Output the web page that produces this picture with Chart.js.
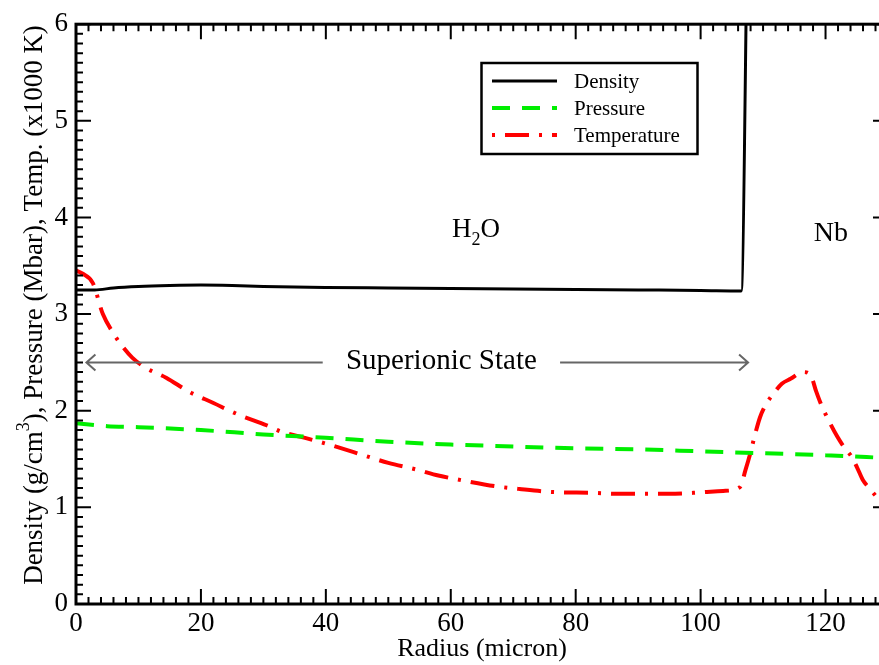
<!DOCTYPE html>
<html>
<head>
<meta charset="utf-8">
<script src="https://cdn.jsdelivr.net/npm/chart.js@4.4.0/dist/chart.umd.min.js"></script>
<style>
  html, body { margin: 0; padding: 0; background: #fff; overflow: hidden; }
  #wrap { width: 888px; height: 665px; }
</style>
</head>
<body>
<div id="wrap"><canvas id="profileChart" width="888" height="665"></canvas></div>
<script>
const serif = '"Liberation Serif", "Times New Roman", serif';

// Tick labels
const radiusTicks = [0, 20, 40, 60, 80, 100, 120];
const valueTicks = [0, 1, 2, 3, 4, 5, 6];

// Density (g/cm3) vs radius (micron) - jumps to Nb past the interface
const densityRadius = [0, 3, 6, 10, 15, 20, 25, 30, 40, 50, 60, 70, 80, 90, 100, 106.5, 108, 130];
const densityValues = [3.25, 3.25, 3.27, 3.285, 3.295, 3.30, 3.295, 3.285, 3.275, 3.27, 3.265, 3.26, 3.255, 3.25, 3.245, 3.24, 8.6, 8.6];

// Pressure (Mbar)
const pressureRadius = [0, 5, 10, 20, 30, 40, 50, 60, 70, 80, 90, 100, 110, 120, 130];
const pressureValues = [1.87, 1.84, 1.83, 1.80, 1.755, 1.72, 1.68, 1.65, 1.63, 1.61, 1.60, 1.58, 1.56, 1.54, 1.51];

// Temperature (x1000 K)
const tempRadius = [0, 1, 2.7, 4.3, 6, 7.5, 9, 11, 14.5, 18, 22, 26, 30.5, 33, 36, 40, 46.5, 50, 54.6, 58,
  62.6, 67, 71, 76, 82.8, 87, 91.4, 95, 98.8, 101, 103.6, 106.3, 107.2, 108, 108.5, 109.5, 110.5, 111.7,
  113, 114.4, 116.4, 117.6, 118.5, 119.2, 120.5, 121.9, 123, 124, 125, 126, 127, 128.3, 130];
const tempValues = [3.45, 3.42, 3.32, 3.0, 2.8, 2.66, 2.55, 2.45, 2.34, 2.2, 2.08, 1.96, 1.85, 1.78, 1.73, 1.66, 1.53, 1.46, 1.39, 1.33,
  1.27, 1.22, 1.19, 1.16, 1.15, 1.14, 1.14, 1.14, 1.15, 1.16, 1.17, 1.21, 1.39, 1.57, 1.70, 1.93, 2.07, 2.18,
  2.28, 2.33, 2.40, 2.37, 2.2, 2.08, 1.9, 1.73, 1.62, 1.54, 1.42, 1.28, 1.20, 1.10, 1.0];

const toPoints = (xs, ys) => xs.map((x, i) => ({ x: x, y: ys[i] }));

// frame, inward ticks on all four sides, legend box and labels
const decorations = {
  id: 'decorations',
  afterDraw(chart) {
    const ctx = chart.ctx;
    const area = chart.chartArea;
    const xs = chart.scales.x;
    const ys = chart.scales.y;
    ctx.save();
    ctx.strokeStyle = '#000';

    // ticks
    ctx.lineWidth = 2;
    ctx.beginPath();
    for (let i = 0; i <= 65; i++) {
      const px = xs.getPixelForValue(i * 2);
      const len = (i % 10 === 0) ? 15 : 7;
      ctx.moveTo(px, area.bottom); ctx.lineTo(px, area.bottom - len);
      ctx.moveTo(px, area.top); ctx.lineTo(px, area.top + len);
    }
    for (let i = 0; i <= 60; i++) {
      const py = ys.getPixelForValue(i / 10);
      const len = (i % 10 === 0) ? 15 : 7;
      ctx.moveTo(area.left, py); ctx.lineTo(area.left + len, py);
      ctx.moveTo(area.right, py); ctx.lineTo(area.right - len, py);
    }
    ctx.stroke();

    // frame
    ctx.lineWidth = 3;
    ctx.strokeRect(area.left, area.top, area.right - area.left, area.bottom - area.top);

    // x title
    ctx.fillStyle = '#000';
    ctx.font = '26px ' + serif;
    ctx.textAlign = 'center';
    ctx.textBaseline = 'alphabetic';
    ctx.fillText('Radius (micron)', (area.left + area.right) / 2, 656);

    // y title with superscript
    ctx.save();
    ctx.translate(42, 305);
    ctx.rotate(-Math.PI / 2);
    ctx.textAlign = 'left';
    const partA = 'Density (g/cm';
    const partB = '), Pressure (Mbar), Temp. (x1000 K)';
    ctx.font = '27px ' + serif;
    const wA = ctx.measureText(partA).width;
    const wB = ctx.measureText(partB).width;
    ctx.font = '18px ' + serif;
    const wS = ctx.measureText('3').width;
    let tx = -(wA + wS + wB) / 2;
    ctx.font = '27px ' + serif;
    ctx.fillText(partA, tx, 0);
    tx += wA;
    ctx.font = '18px ' + serif;
    ctx.fillText('3', tx, -13);
    tx += wS;
    ctx.font = '27px ' + serif;
    ctx.fillText(partB, tx, 0);
    ctx.restore();

    // region labels
    ctx.textAlign = 'left';
    let hx = xs.getPixelForValue(60.2);
    const hy = ys.getPixelForValue(3.8);
    ctx.font = '27px ' + serif;
    ctx.fillText('H', hx, hy);
    hx += ctx.measureText('H').width;
    ctx.font = '18px ' + serif;
    ctx.fillText('2', hx, hy + 8);
    hx += ctx.measureText('2').width;
    ctx.font = '27px ' + serif;
    ctx.fillText('O', hx, hy);

    ctx.font = '28px ' + serif;
    ctx.fillText('Nb', xs.getPixelForValue(118.1), ys.getPixelForValue(3.76));

    ctx.font = '29px ' + serif;
    ctx.textAlign = 'center';
    ctx.fillText('Superionic State', xs.getPixelForValue(58.5), ys.getPixelForValue(2.43));

    // arrows either side of the label
    const ay = ys.getPixelForValue(2.5);
    const l0 = xs.getPixelForValue(1.67), l1 = xs.getPixelForValue(39.5);
    const r0 = xs.getPixelForValue(77.5), r1 = xs.getPixelForValue(107.6);
    ctx.strokeStyle = '#666';
    ctx.lineWidth = 2;
    ctx.beginPath();
    ctx.moveTo(l1, ay); ctx.lineTo(l0, ay);
    ctx.moveTo(l0 + 9, ay - 8); ctx.lineTo(l0, ay); ctx.lineTo(l0 + 9, ay + 8);
    ctx.moveTo(r0, ay); ctx.lineTo(r1, ay);
    ctx.moveTo(r1 - 9, ay - 8); ctx.lineTo(r1, ay); ctx.lineTo(r1 - 9, ay + 8);
    ctx.stroke();

    // legend
    ctx.strokeStyle = '#000';
    ctx.lineWidth = 2.5;
    ctx.strokeRect(481.5, 63, 216, 91);
    const rows = [81, 108, 135];
    chart.data.datasets.forEach((ds, i) => {
      const y = rows[i];
      ctx.save();
      ctx.strokeStyle = ds.borderColor;
      ctx.lineWidth = ds.borderWidth;
      ctx.setLineDash(ds.borderDash || []);
      ctx.lineDashOffset = ds.legendDashOffset || 0;
      ctx.beginPath();
      ctx.moveTo(492, y); ctx.lineTo(557, y);
      ctx.stroke();
      ctx.restore();
      ctx.fillStyle = '#000';
      ctx.font = '21px ' + serif;
      ctx.textAlign = 'left';
      ctx.fillText(ds.label, 574, y + 7);
    });
    ctx.restore();
  }
};

new Chart(document.getElementById('profileChart'), {
  type: 'line',
  data: {
    datasets: [
      {
        label: 'Density',
        data: toPoints(densityRadius, densityValues),
        borderColor: '#000000',
        borderWidth: 3,
        pointRadius: 0,
        cubicInterpolationMode: 'monotone'
      },
      {
        label: 'Pressure',
        data: toPoints(pressureRadius, pressureValues),
        borderColor: '#00ee00',
        borderWidth: 4,
        borderDash: [18, 12],
        pointRadius: 0,
        cubicInterpolationMode: 'monotone'
      },
      {
        label: 'Temperature',
        data: toPoints(tempRadius, tempValues),
        borderColor: '#ff0000',
        borderWidth: 4,
        borderDash: [24, 10, 3, 10],
        legendDashOffset: 34,
        pointRadius: 0,
        cubicInterpolationMode: 'monotone'
      }
    ]
  },
  options: {
    responsive: false,
    animation: false,
    layout: { padding: { top: 22, left: 0, right: 0, bottom: 0 } },
    plugins: {
      legend: { display: false },
      tooltip: { enabled: false }
    },
    scales: {
      x: {
        type: 'linear',
        min: 0,
        max: 130,
        afterBuildTicks: scale => { scale.ticks = radiusTicks.map(v => ({ value: v })); },
        afterFit: scale => { scale.height = 61; },
        grid: { display: false, drawTicks: false },
        border: { display: false },
        ticks: {
          color: '#000',
          padding: 4,
          maxRotation: 0,
          font: { family: serif, size: 27 }
        }
      },
      y: {
        type: 'linear',
        min: 0,
        max: 6,
        afterBuildTicks: scale => { scale.ticks = valueTicks.map(v => ({ value: v })); },
        afterFit: scale => { scale.width = 76; },
        grid: { display: false, drawTicks: false },
        border: { display: false },
        ticks: {
          color: '#000',
          padding: 8,
          font: { family: serif, size: 27 }
        }
      }
    }
  },
  plugins: [decorations]
});
</script>
</body>
</html>
